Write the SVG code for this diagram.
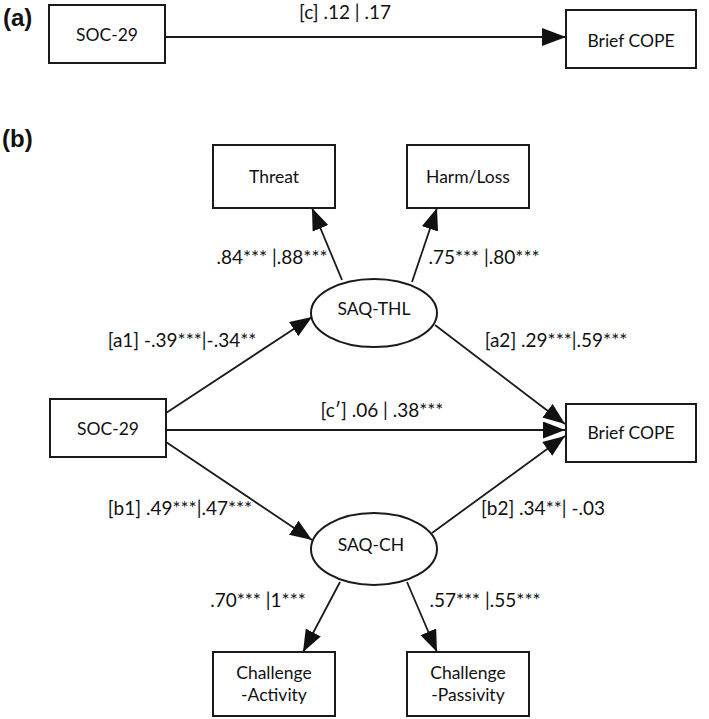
<svg xmlns="http://www.w3.org/2000/svg" width="709" height="719" viewBox="0 0 709 719">
<style>
  .box { fill: #fff; stroke: #1a1a1a; stroke-width: 2; }
  .ell { fill: #fff; stroke: #1a1a1a; stroke-width: 2; }
  .lbl { font-family: Lato, "Liberation Sans", sans-serif; font-size: 19px; fill: #111; text-anchor: middle; }
  .nt { font-family: Lato, "Liberation Sans", sans-serif; font-size: 17.5px; fill: #111; text-anchor: middle; dominant-baseline: central; }
  .pan { font-family: "Liberation Sans", Arial, sans-serif; font-size: 24px; font-weight: bold; fill: #111; }
  .edge { stroke: #1a1a1a; stroke-width: 1.8; fill: none; marker-end: url(#arr); }
  .edgeA { stroke: #1a1a1a; stroke-width: 1.8; fill: none; marker-end: url(#arrA); }
</style>
<defs>
  <marker id="arr" markerUnits="userSpaceOnUse" markerWidth="24" markerHeight="18" refX="22" refY="8.5" orient="auto">
    <path d="M0,0 L22,8.5 L0,17 z" fill="#111"/>
  </marker>
  <marker id="arrA" markerUnits="userSpaceOnUse" markerWidth="26" markerHeight="20" refX="24" refY="9" orient="auto">
    <path d="M0,0 L24,9 L0,18 z" fill="#111"/>
  </marker>
</defs>
<rect width="709" height="719" fill="#fff"/>
<text class="pan" x="3" y="26">(a)</text>
<text class="pan" x="2" y="147">(b)</text>

<g id="connectors">
  <line class="edgeA" x1="165" y1="37" x2="566" y2="37"/>
  <line class="edge" x1="342" y1="280" x2="312" y2="208"/>
  <line class="edge" x1="412" y1="282" x2="437" y2="208"/>
  <line class="edge" x1="166" y1="413" x2="312" y2="317"/>
  <line class="edge" x1="435" y1="325" x2="565" y2="424"/>
  <line class="edge" x1="166" y1="430" x2="565" y2="430"/>
  <line class="edge" x1="166" y1="442" x2="312" y2="540"/>
  <line class="edge" x1="432" y1="533" x2="565" y2="436"/>
  <line class="edge" x1="340" y1="582" x2="303" y2="652"/>
  <line class="edge" x1="407" y1="582" x2="437" y2="652"/>
</g>

<g id="labels">
  <text class="lbl" x="345" y="19">[c] .12 | .17</text>
  <text class="lbl" x="272" y="264">.84*** |.88***</text>
  <text class="lbl" x="484" y="264">.75*** |.80***</text>
  <text class="lbl" x="182" y="347">[a1] -.39***|-.34**</text>
  <text class="lbl" x="556" y="347">[a2] .29***|.59***</text>
  <text class="lbl" x="382" y="417">[c′] .06 | .38***</text>
  <text class="lbl" x="180" y="515">[b1] .49***|.47***</text>
  <text class="lbl" x="543" y="515">[b2] .34**| -.03</text>
  <text class="lbl" x="258" y="607">.70*** |1***</text>
  <text class="lbl" x="485" y="607">.57*** |.55***</text>
</g>

<g id="a-soc29"><rect class="box" x="49" y="5" width="116" height="58"/><text class="nt" x="107" y="34">SOC-29</text></g>
<g id="a-briefcope"><rect class="box" x="566" y="10" width="130" height="58"/><text class="nt" x="631" y="40">Brief COPE</text></g>

<g id="threat"><rect class="box" x="213" y="145" width="122" height="63"/><text class="nt" x="274" y="176">Threat</text></g>
<g id="harmloss"><rect class="box" x="407" y="145" width="122" height="63"/><text class="nt" x="468" y="176">Harm/Loss</text></g>
<g id="saq-thl"><ellipse class="ell" cx="374" cy="313" rx="63" ry="34"/><text class="nt" x="374" y="308">SAQ-THL</text></g>
<g id="b-soc29"><rect class="box" x="50" y="399" width="116" height="58"/><text class="nt" x="108" y="428">SOC-29</text></g>
<g id="b-briefcope"><rect class="box" x="566" y="404" width="130" height="58"/><text class="nt" x="631" y="432">Brief COPE</text></g>
<g id="saq-ch"><ellipse class="ell" cx="374" cy="549" rx="63" ry="36"/><text class="nt" x="371" y="544">SAQ-CH</text></g>
<g id="challenge-activity"><rect class="box" x="213" y="652" width="122" height="64"/><text class="nt" x="274" y="672">Challenge</text><text class="nt" x="274" y="694">-Activity</text></g>
<g id="challenge-passivity"><rect class="box" x="407" y="652" width="122" height="64"/><text class="nt" x="468" y="672">Challenge</text><text class="nt" x="468" y="694">-Passivity</text></g>
</svg>
